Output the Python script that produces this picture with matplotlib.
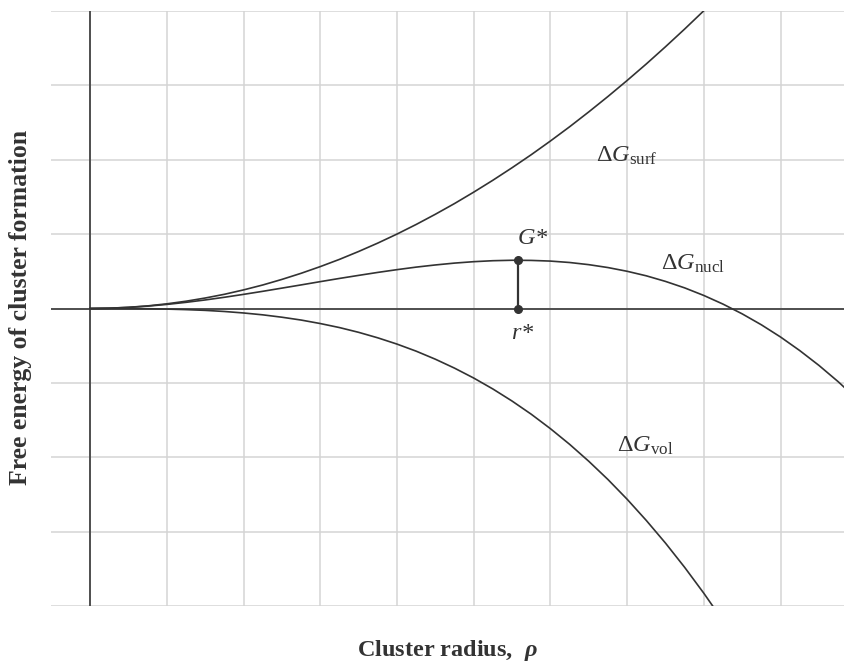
import matplotlib
matplotlib.use("Agg")
import matplotlib.pyplot as plt

plt.rcParams['font.family'] = ['Liberation Serif', 'DejaVu Serif']
plt.rcParams['mathtext.fontset'] = 'custom'
plt.rcParams['mathtext.rm'] = 'Liberation Serif'
plt.rcParams['mathtext.it'] = 'Liberation Serif:italic'
plt.rcParams['mathtext.bf'] = 'Liberation Serif:bold'
plt.rcParams['mathtext.bfit'] = 'Liberation Serif:bold:italic'

# values (grid units), every quarter grid step
radius = [0, 0.25, 0.5, 0.75, 1, 1.25, 1.5, 1.75, 2, 2.25, 2.5, 2.75, 3, 3.25,
          3.5, 3.75, 4, 4.25, 4.5, 4.75, 5, 5.25, 5.5, 5.75, 6, 6.25, 6.5, 6.75,
          7, 7.25, 7.5, 7.75, 8, 8.25, 8.5, 8.75, 9, 9.25, 9.5, 9.75, 10]
g_surf = [0, .004, .016, .035, .063, .098, .141, .191, .25, .316, .391, .473,
          .563, .660, .766, .879, 1.0, 1.129, 1.266, 1.410, 1.563, 1.723, 1.891,
          2.066, 2.25, 2.441, 2.641, 2.848, 3.063, 3.285, 3.516, 3.754, 4.0,
          4.254, 4.516, 4.785, 5.063, 5.348, 5.641, 5.941, 6.25]
g_vol = [0, -.000, -.001, -.003, -.008, -.015, -.025, -.040, -.060, -.085, -.117,
         -.155, -.202, -.256, -.320, -.394, -.478, -.573, -.681, -.801, -.934,
         -1.081, -1.243, -1.420, -1.614, -1.824, -2.052, -2.297, -2.562, -2.847,
         -3.151, -3.477, -3.825, -4.195, -4.588, -5.004, -5.446, -5.912, -6.405,
         -6.924, -7.47]
g_nucl = [0, .004, .015, .032, .055, .083, .115, .151, .190, .231, .274, .317,
          .361, .404, .445, .485, .522, .556, .585, .610, .629, .642, .648, .646,
          .637, .618, .589, .550, .500, .439, .364, .277, .175, .059, -.072,
          -.219, -.383, -.565, -.764, -.982, -1.22]
r_star = 5.58
g_star = 0.648

ink = '#333333'

fig = plt.figure(figsize=(8.45, 6.69), dpi=100)
ax = fig.add_axes([0.0604, 0.0937, 0.9396, 0.8903])

ax.set_xlim(-0.51, 9.84)
ax.set_ylim(-4, 4)
ax.set_xticks(range(0, 10))
ax.set_yticks(range(-4, 5))
ax.grid(True, color='#d4d4d4', linewidth=1.1)
ax.set_axisbelow(True)
ax.tick_params(length=0, labelbottom=False, labelleft=False)
for s in ax.spines.values():
    s.set_visible(False)

ax.axhline(0, color='#444444', linewidth=1.3, zorder=2)
ax.axvline(0, color='#444444', linewidth=1.3, zorder=2)

ax.plot(radius, g_surf, color=ink, linewidth=1.2, zorder=3)
ax.plot(radius, g_vol, color=ink, linewidth=1.2, zorder=3)
ax.plot(radius, g_nucl, color=ink, linewidth=1.2, zorder=3)

ax.plot([r_star, r_star], [0, g_star], color=ink, linewidth=1.6, zorder=4)
ax.plot([r_star, r_star], [0, g_star], 'o', color=ink, markersize=5.5, zorder=5)

fs = 17.5
ax.text(6.6, 2.05, r'$\Delta G_{\rm surf}$', fontsize=fs, color=ink, va='center')
ax.text(7.44, 0.6, r'$\Delta G_{\rm nucl}$', fontsize=fs, color=ink, va='center')
ax.text(6.87, -1.84, r'$\Delta G_{\rm vol}$', fontsize=fs, color=ink, va='center')
ax.text(5.57, 0.94, r'$G$*', fontsize=fs, color=ink, va='center', ha='left',
        style='italic')
ax.text(5.48, -0.34, r'$r$*', fontsize=fs, color=ink, va='center', ha='left',
        style='italic')

fig.text(0.53, 0.027, r'Cluster radius,  $\boldsymbol{\rho}$', fontsize=17.5,
         fontweight='bold', color=ink, ha='center', va='center')
fig.text(0.024, 0.54, 'Free energy of cluster formation', fontsize=18.5,
         fontweight='bold', color=ink, ha='center', va='center', rotation=90)

fig.savefig('out.png', dpi=100)
